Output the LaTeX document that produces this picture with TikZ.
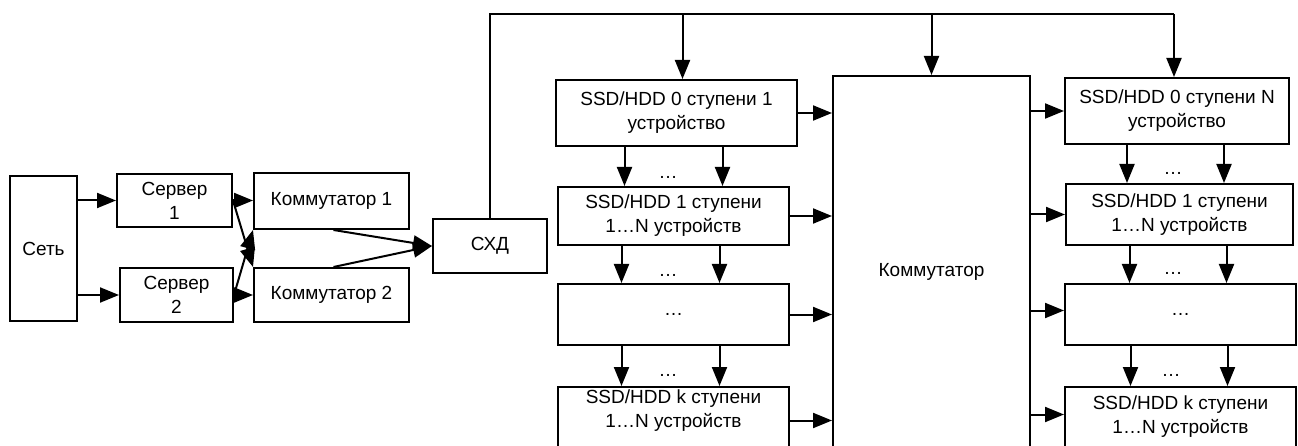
\documentclass[tikz,border=0pt]{standalone}
\usepackage{fontspec}
\setmainfont{Liberation Sans}
\usetikzlibrary{arrows.meta,positioning,calc}

\begin{document}
\begin{tikzpicture}[x=1pt, y=-1pt, line width=2pt,
  >={Triangle[length=19pt,width=15pt]},
  box/.style 2 args={draw, minimum width=#1, minimum height=#2, inner sep=0pt,
    align=center, font=\fontsize{19}{24}\selectfont},
  dots/.style={inner sep=0pt, font=\fontsize{19}{24}\selectfont}]

  \useasboundingbox (0,0) rectangle (1298,446);
  \clip (0,0) rectangle (1298,446);

  % Define nodes: network, servers, switches, storage
  \node[box={67}{145}] (net) at (43.5,248.5) {Сеть};
  \node[box={115}{53}] (s1) at (174.5,200.5) {Сервер\\1};
  \node[box={113}{54}] (s2) at (176.5,295) {Сервер\\2};
  \node[box={155}{56}] (k1) at (331.5,201) {Коммутатор 1};
  \node[box={155}{54}] (k2) at (331.5,295) {Коммутатор 2};
  \node[box={114}{54}] (shd) at (490,246) {СХД};

  % Define nodes: first column of stages
  \node[box={241}{66}] (a0) at (676.5,113) {SSD/HDD 0 ступени 1\\устройство};
  \node[box={231}{58}] (a1) at (673.5,216) {SSD/HDD 1 ступени\\1…N устройств};
  \node[box={231}{61}] (a2) at (673.5,314.5) {…};
  \node[box={231}{67}] (a3) at (673.5,420.5) {SSD/HDD k ступени\\1…N устройств\\\mbox{}};

  % Define nodes: central switch
  \node[box={197}{392}] (sw) at (931.5,272) {Коммутатор};

  % Define nodes: last column of stages
  \node[box={224}{66}] (b0) at (1177,111) {SSD/HDD 0 ступени N\\устройство};
  \node[box={227}{61}] (b1) at (1179.5,214.5) {SSD/HDD 1 ступени\\1…N устройств};
  \node[box={231}{61}] (b2) at (1180.5,314.5) {…};
  \node[box={231}{79}] (b3) at (1180.5,426.5) {SSD/HDD k ступени\\1…N устройств\\\mbox{}};

  % Dots between the stages
  \node[dots] (da1) at (668,177) {…};
  \node[dots] (da2) at (668,275) {…};
  \node[dots] (da3) at (668,375) {…};
  \node[dots] (db1) at (1173,173) {…};
  \node[dots] (db2) at (1173,273) {…};
  \node[dots] (db3) at (1171,375) {…};

  \coordinate (tr) at (1174,14);
  \coordinate (b2in) at ([yshift=4]b2.west);
  \coordinate (b3in) at ([yshift=12]b3.west);

  % Draw arrows on the left
  \draw[->] (net.east |- s1.west) -- (s1.west);
  \draw[->] (net.east |- s2.west) -- (s2.west);
  \draw[->] (s1.east) -- (s1.east -| k1.west);
  \draw[->] (s1.east) -- (k2.north west);
  \draw[->] (s2.east) -- (k1.south west);
  \draw[->] (s2.east) -- (s2.east -| k2.west);
  \draw[->] ([xshift=2]k1.south) -- (shd.west);
  \draw[->] ([xshift=2]k2.north) -- (shd.west);

  % Draw the top bus
  \draw (shd.north) |- (tr);
  \draw[->] ([xshift=6]a0.north |- tr) -- ([xshift=6]a0.north);
  \draw[->] (sw.north |- tr) -- (sw.north);
  \draw[->] (tr) -- (tr |- b0.north);

  % Draw arrows between the stages
  \foreach \u/\v in {a0/a1, a1/a2, a2/a3} {
    \draw[->] ([xshift=-52]\u.south) -- ([xshift=-52]\u.south |- \v.north);
    \draw[->] ([xshift=46]\u.south) -- ([xshift=46]\u.south |- \v.north);
  }
  \foreach \u/\v in {b0/b1, b1/b2, b2/b3} {
    \draw[->] ([xshift=-50]\u.south) -- ([xshift=-50]\u.south |- \v.north);
    \draw[->] ([xshift=47]\u.south) -- ([xshift=47]\u.south |- \v.north);
  }

  % Draw arrows through the central switch
  \foreach \u in {a0,a1,a2,a3}
    \draw[->] (\u.east) -- (\u.east -| sw.west);
  \foreach \v in {b0,b1,b2in,b3in}
    \draw[->] (sw.east |- \v) -- (\v);

\end{tikzpicture}
\end{document}
